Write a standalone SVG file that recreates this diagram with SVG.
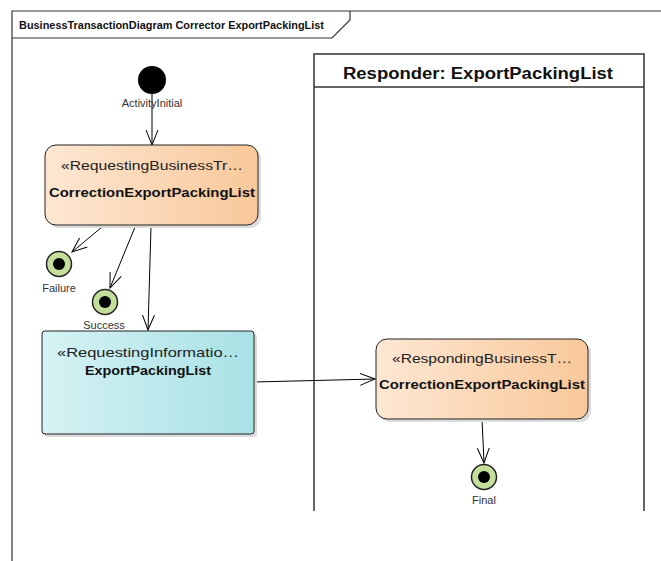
<svg xmlns="http://www.w3.org/2000/svg" width="661" height="561" viewBox="0 0 661 561">
<style>
.ln{fill:none;stroke:#000;stroke-width:1}
.frame{fill:none;stroke:#333;stroke-width:1.2}
.lbl{font-family:"Liberation Sans",Arial,sans-serif;font-size:11px;fill:#333;text-anchor:middle}
.st{font-family:"Liberation Sans",Arial,sans-serif;font-size:13px;fill:#222;text-anchor:middle}
.nm{font-family:"Liberation Sans",Arial,sans-serif;font-size:13px;font-weight:bold;fill:#111;text-anchor:middle}
.fin{fill:#c4df9c;stroke:#222;stroke-width:1.5}
.sh{fill:#dcdcdc}
</style>
<defs>
<linearGradient id="gOr" x1="0" y1="0" x2="1" y2="0">
<stop offset="0" stop-color="#fde7d3"/>
<stop offset="1" stop-color="#f8c89a"/>
</linearGradient>
<linearGradient id="gCy" x1="0" y1="0" x2="1" y2="0">
<stop offset="0" stop-color="#d6f2f4"/>
<stop offset="1" stop-color="#a8e1e5"/>
</linearGradient>
<marker id="arr" viewBox="0 0 16 14" refX="15" refY="7" markerWidth="16" markerHeight="14" markerUnits="userSpaceOnUse" orient="auto">
<path d="M0,1 L15,7 L0,13" fill="none" stroke="#000" stroke-width="1"/>
</marker>
</defs>
<rect width="661" height="561" fill="#fff"/>
<g id="frame">
<path class="frame" d="M12,561 L12,11 L661,11"/>
<path class="frame" d="M12,38 L332,38 L350,20 L350,11"/>
<text x="19" y="29" font-family="Liberation Sans,Arial,sans-serif" font-size="10" font-weight="bold" fill="#111" textLength="305" lengthAdjust="spacingAndGlyphs">BusinessTransactionDiagram Corrector ExportPackingList</text>
</g>
<g id="lane-responder">
<path d="M314,511 L314,54 L644,54 L644,511" fill="none" stroke="#333" stroke-width="1.5"/>
<line x1="314" y1="87" x2="644" y2="87" stroke="#333" stroke-width="1.5"/>
<text x="478" y="79" font-family="Liberation Sans,Arial,sans-serif" font-size="16" font-weight="bold" fill="#111" text-anchor="middle" textLength="270" lengthAdjust="spacingAndGlyphs">Responder: ExportPackingList</text>
</g>
<g id="connectors">
<line class="ln" x1="152" y1="94" x2="152" y2="145" marker-end="url(#arr)"/>
<line class="ln" x1="102" y1="227" x2="72" y2="252" marker-end="url(#arr)"/>
<line class="ln" x1="135" y1="227" x2="110" y2="288" marker-end="url(#arr)"/>
<line class="ln" x1="151" y1="227" x2="148" y2="330" marker-end="url(#arr)"/>
<line class="ln" x1="254" y1="382" x2="375" y2="379" marker-end="url(#arr)"/>
<line class="ln" x1="482" y1="419" x2="484" y2="463" marker-end="url(#arr)"/>
</g>
<g id="initial">
<circle cx="152" cy="80" r="14" fill="#000"/>
<text class="lbl" x="152" y="107">ActivityInitial</text>
</g>
<g id="req-transaction">
<rect class="sh" x="48" y="148" width="213" height="80" rx="11"/>
<rect x="45" y="145" width="213" height="80" rx="11" fill="url(#gOr)" stroke="#222" stroke-width="1"/>
<text class="st" x="152" y="170" textLength="182" lengthAdjust="spacingAndGlyphs">«RequestingBusinessTr…</text>
<text class="nm" x="152" y="197" textLength="206" lengthAdjust="spacingAndGlyphs">CorrectionExportPackingList</text>
</g>
<g id="failure">
<circle class="fin" cx="59" cy="264" r="12.5"/>
<circle cx="59" cy="264" r="6" fill="#000"/>
<text class="lbl" x="59" y="292">Failure</text>
</g>
<g id="success">
<circle class="fin" cx="105" cy="302" r="12.5"/>
<circle cx="105" cy="302" r="6" fill="#000"/>
<text class="lbl" x="104" y="329">Success</text>
</g>
<g id="req-information">
<rect class="sh" x="45" y="334" width="212" height="103" rx="3"/>
<rect x="42" y="331" width="212" height="103" rx="3" fill="url(#gCy)" stroke="#222" stroke-width="1"/>
<text class="st" x="148" y="357" textLength="182" lengthAdjust="spacingAndGlyphs">«RequestingInformatio…</text>
<text class="nm" x="148" y="375" textLength="126" lengthAdjust="spacingAndGlyphs">ExportPackingList</text>
</g>
<g id="resp-transaction">
<rect class="sh" x="379" y="342" width="212" height="80" rx="11"/>
<rect x="376" y="339" width="212" height="80" rx="11" fill="url(#gOr)" stroke="#222" stroke-width="1"/>
<text class="st" x="482" y="363" textLength="180" lengthAdjust="spacingAndGlyphs">«RespondingBusinessT…</text>
<text class="nm" x="482" y="389" textLength="206" lengthAdjust="spacingAndGlyphs">CorrectionExportPackingList</text>
</g>
<g id="final">
<circle class="fin" cx="484" cy="477" r="12.5"/>
<circle cx="484" cy="477" r="6" fill="#000"/>
<text class="lbl" x="484" y="504">Final</text>
</g>
</svg>
